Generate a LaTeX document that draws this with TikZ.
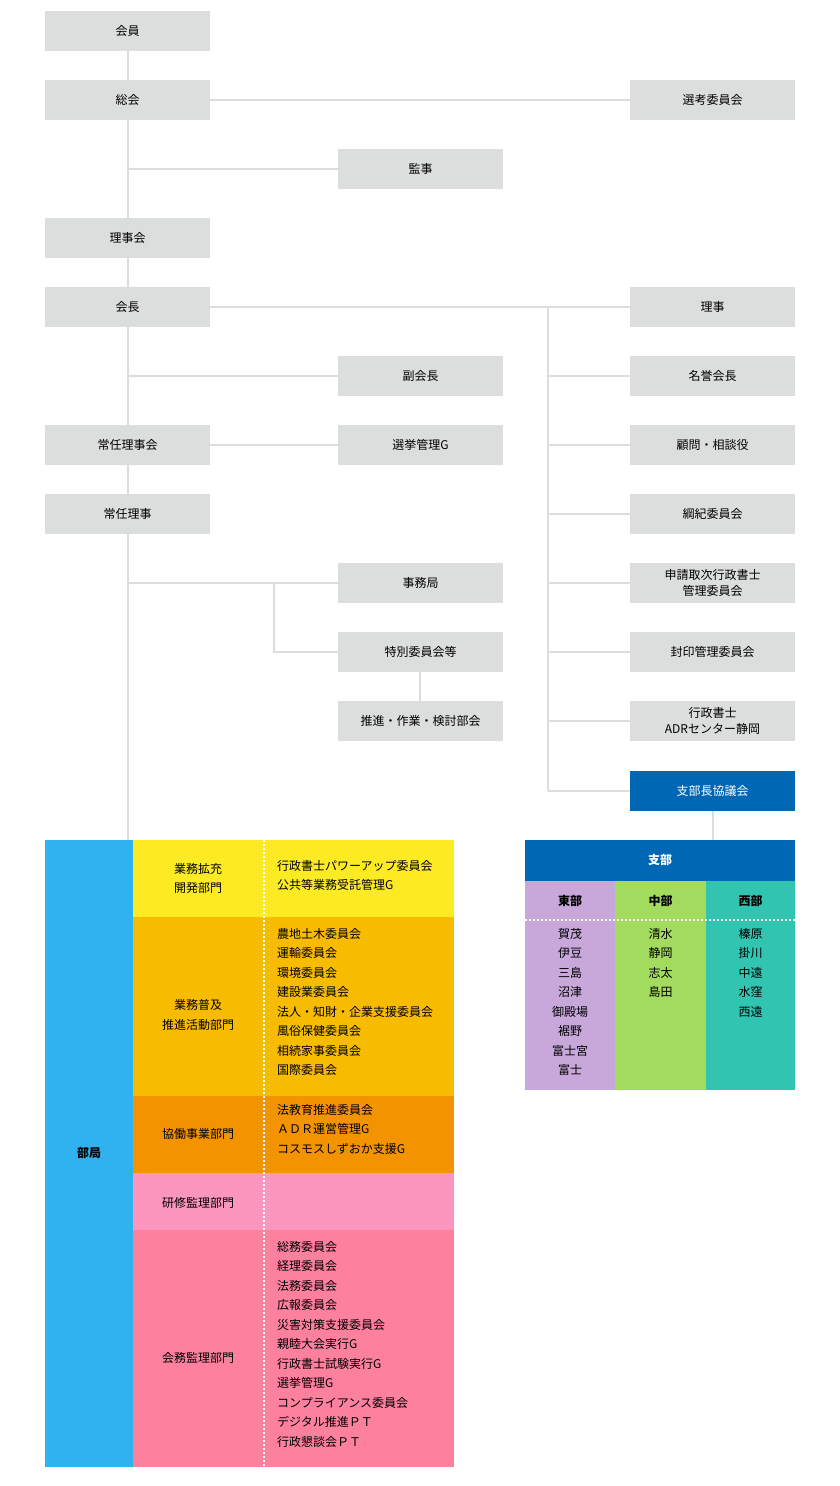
\documentclass[tikz,border=0pt]{standalone}
\usepackage{fontspec}
\setmainfont{Noto Sans CJK JP}
\begin{document}
\begin{tikzpicture}[x=1pt,y=-1pt,
  box/.style={fill=boxgray,minimum width=165pt,minimum height=40pt,inner sep=0pt,font=\fontsize{12}{15}\selectfont,align=center},
  ln/.style={draw=linegray,line width=2pt},
  txt/.style={font=\fontsize{12}{19.5}\selectfont,inner sep=0pt}]
\definecolor{boxgray}{HTML}{DCDDDD}
\definecolor{linegray}{HTML}{DCDDDD}
\definecolor{dblue}{HTML}{0067B5}
\definecolor{lblue}{HTML}{2FB2EE}
\definecolor{cyel}{HTML}{FCEA22}
\definecolor{cor1}{HTML}{F7BC00}
\definecolor{cor2}{HTML}{F39300}
\definecolor{cpk1}{HTML}{FD96BE}
\definecolor{cpk2}{HTML}{FD809F}
\definecolor{cpur}{HTML}{C8A7DA}
\definecolor{cgrn}{HTML}{A3DB5F}
\definecolor{ctea}{HTML}{30C4B1}
\useasboundingbox (0,0) rectangle (840,1486);
% lines first
\coordinate (t1) at (128,31); \coordinate (t2) at (128,840);
\draw[ln] (t1) -- (t2);
\coordinate (r1) at (548,307); \coordinate (r2) at (548,791);
\draw[ln] (r1) -- (r2);
\foreach \y in {100,169,376,583} \draw[ln] (128,\y) -- (420,\y);
\draw[ln] (128,100) -- (713,100);
\draw[ln] (128,307) -- (713,307);
\draw[ln] (128,445) -- (420,445);
\foreach \y in {376,445,514,583,652,721,791} \draw[ln] (548,\y) -- (713,\y);
\draw[ln] (274,583) -- (274,652) -- (420,652);
\draw[ln] (420,652) -- (420,721);
\draw[ln] (713,791) -- (713,840);
% boxes
\node[box] (kaiin) at (127.5,31) {会員};
\node[box] (sokai) at (127.5,100) {総会};
\node[box] (senko) at (712.5,100) {選考委員会};
\node[box] (kanji) at (420.5,169) {監事};
\node[box] (rijikai) at (127.5,238) {理事会};
\node[box] (kaicho) at (127.5,307) {会長};
\node[box] (riji) at (712.5,307) {理事};
\node[box] (fuku) at (420.5,376) {副会長};
\node[box] (meiyo) at (712.5,376) {名誉会長};
\node[box] (jonin1) at (127.5,445) {常任理事会};
\node[box] (senkyo) at (420.5,445) {選挙管理G};
\node[box] (komon) at (712.5,445) {顧問・相談役};
\node[box] (jonin2) at (127.5,514) {常任理事};
\node[box] (koki) at (712.5,514) {綱紀委員会};
\node[box] (jimu) at (420.5,583) {事務局};
\node[box,font=\fontsize{12}{16}\selectfont] (shinsei) at (712.5,583) {申請取次行政書士\\管理委員会};
\node[box] (tokubetsu) at (420.5,652) {特別委員会等};
\node[box] (fuin) at (712.5,652) {封印管理委員会};
\node[box] (suishin) at (420.5,721) {推進・作業・検討部会};
\node[box,font=\fontsize{12}{16}\selectfont] (adr) at (712.5,721) {行政書士\\ADRセンター静岡};
\node[box,fill=dblue,text=white] (shibucho) at (712.5,791) {支部長協議会};
% bukyoku
\fill[lblue] (45,840) rectangle (133,1467);
\node[txt,font=\bfseries\fontsize{12}{15}\selectfont] (bukyoku) at (89,1153) {部局};
\fill[cyel] (133,840) rectangle (454,917);
\fill[cor1] (133,917) rectangle (454,1096);
\fill[cor2] (133,1096) rectangle (454,1173);
\fill[cpk1] (133,1173) rectangle (454,1230);
\fill[cpk2] (133,1230) rectangle (454,1467);
\draw[white,line width=1.5pt,dash pattern=on 2pt off 2pt] (264,840) -- (264,1467);
\node[txt,align=center] (d1) at (198,878.5) {業務拡充\\開発部門};
\node[txt,align=center] (d2) at (198,1015) {業務普及\\推進活動部門};
\node[txt] (d3) at (198,1134) {協働事業部門};
\node[txt] (d4) at (198,1203) {研修監理部門};
\node[txt] (d5) at (198,1358) {会務監理部門};
\node[txt,align=left,anchor=north west] (c1) at (277,860) {行政書士パワーアップ委員会\\公共等業務受託管理G};
\node[txt,align=left,anchor=north west] (c2) at (277,928) {農地土木委員会\\運輸委員会\\環境委員会\\建設業委員会\\法人・知財・企業支援委員会\\風俗保健委員会\\相続家事委員会\\国際委員会};
\node[txt,align=left,anchor=north west] (c3) at (277,1104) {法教育推進委員会\\ＡＤＲ運営管理G\\コスモスしずおか支援G};
\node[txt,align=left,anchor=north west] (c5) at (277,1241) {総務委員会\\経理委員会\\法務委員会\\広報委員会\\災害対策支援委員会\\親睦大会実行G\\行政書士試験実行G\\選挙管理G\\コンプライアンス委員会\\デジタル推進ＰＴ\\行政懇談会ＰＴ};
% shibu
\fill[dblue] (525,840) rectangle (795,881);
\node[txt,text=white,font=\bfseries\fontsize{12}{15}\selectfont] (shibu) at (660,860) {支部};
\fill[cpur] (525,881) rectangle (615,1090);
\fill[cgrn] (615,881) rectangle (706,1090);
\fill[ctea] (706,881) rectangle (795,1090);
\draw[white,line width=1.5pt,dash pattern=on 2pt off 2pt] (525,920) -- (795,920);
\node[txt,font=\bfseries\fontsize{12}{15}\selectfont] (e) at (570,901) {東部};
\node[txt,font=\bfseries\fontsize{12}{15}\selectfont] (m) at (660.5,901) {中部};
\node[txt,font=\bfseries\fontsize{12}{15}\selectfont] (w) at (750.5,901) {西部};
\node[txt,align=center,anchor=north] (el) at (570,928) {賀茂\\伊豆\\三島\\沼津\\御殿場\\裾野\\富士宮\\富士};
\node[txt,align=center,anchor=north] (ml) at (660.5,928) {清水\\静岡\\志太\\島田};
\node[txt,align=center,anchor=north] (wl) at (750.5,928) {榛原\\掛川\\中遠\\水窪\\西遠};
\end{tikzpicture}
\end{document}
